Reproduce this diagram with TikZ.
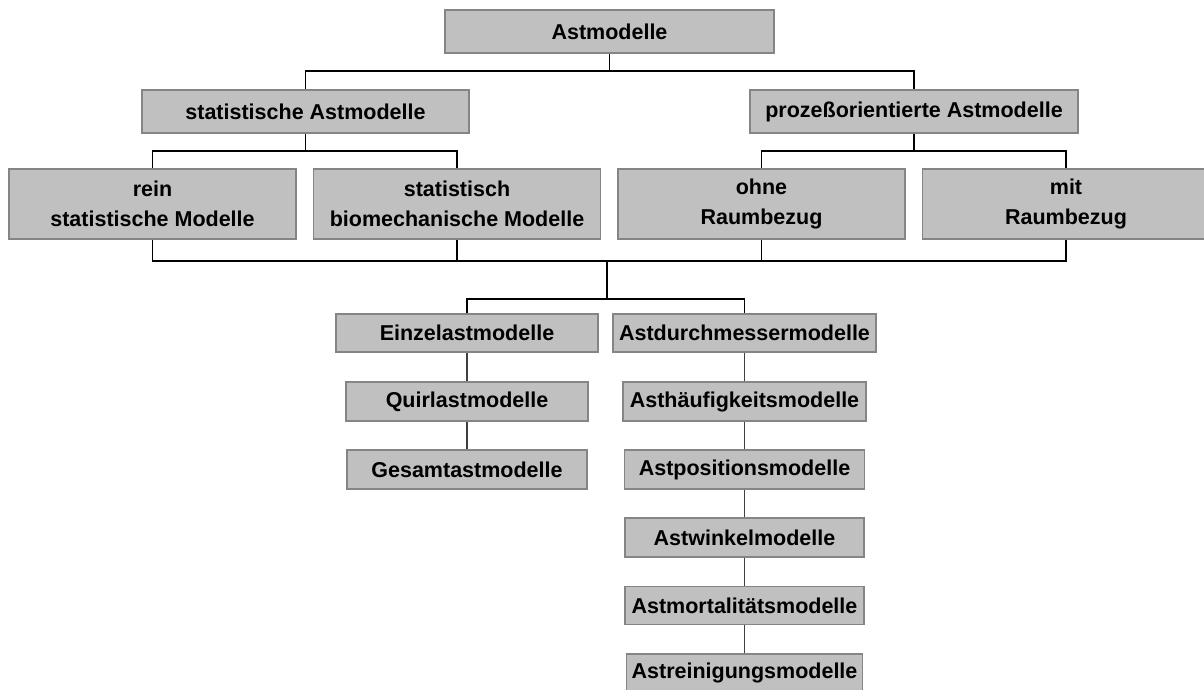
\documentclass[tikz,border=0pt]{standalone}
\usepackage{fontspec}
\setmainfont{Liberation Sans}
\begin{document}
\begin{tikzpicture}[x=1pt,y=-1pt,
  box/.style={draw=boxborder, fill=boxfill, line width=1.2pt, inner sep=0pt,
    align=center, font=\fontsize{21.5}{30}\selectfont\bfseries, text=black},
  conn/.style={draw=black, line width=1.3pt},
  col/.style={draw=colline, line width=1.1pt}]
\definecolor{boxfill}{HTML}{C0C0C0}
\definecolor{boxborder}{HTML}{858585}
\definecolor{colline}{HTML}{404040}
\useasboundingbox (0,0) rectangle (1204,689);
\fill[white] (0,0) rectangle (1204,689);
% nodes
\node[box, minimum width=329pt, minimum height=43pt] (A) at (609.5,31.5) {Astmodelle};
\node[box, minimum width=327pt, minimum height=43pt] (S) at (305.5,111.5) {statistische Astmodelle};
\node[box, minimum width=328pt, minimum height=43pt] (P) at (914,111.5) {prozeßorientierte Astmodelle};
\node[box, minimum width=287pt, minimum height=70pt] (R1) at (152.5,204) {rein\\statistische Modelle};
\node[box, minimum width=287pt, minimum height=70pt] (R2) at (457,204) {statistisch\\biomechanische Modelle};
\node[box, minimum width=287pt, minimum height=70pt] (R3) at (761.5,204) {ohne\\Raumbezug};
\node[box, minimum width=287pt, minimum height=70pt] (R4) at (1066,204) {mit\\Raumbezug};
\node[box, minimum width=262pt, minimum height=38pt] (E) at (467,333) {Einzelastmodelle};
\node[box, minimum width=242pt, minimum height=39pt] (Q) at (467,401.5) {Quirlastmodelle};
\node[box, minimum width=240pt, minimum height=39pt] (G) at (467,469.5) {Gesamtastmodelle};
\node[box, minimum width=263pt, minimum height=38pt] (D1) at (744.5,333) {Astdurchmessermodelle};
\node[box, minimum width=243pt, minimum height=39pt] (D2) at (744.5,401.5) {Asthäufigkeitsmodelle};
\node[box, minimum width=240pt, minimum height=39pt] (D3) at (744.5,469.5) {Astpositionsmodelle};
\node[box, minimum width=239pt, minimum height=39pt] (D4) at (744.5,537.5) {Astwinkelmodelle};
\node[box, minimum width=239pt, minimum height=38pt] (D5) at (744.5,605.5) {Astmortalitätsmodelle};
\node[box, minimum width=236pt, minimum height=38pt] (D6) at (744.5,673) {Astreinigungsmodelle};
% junction levels
\coordinate (j1) at (0,71);
\coordinate (j2) at (0,151);
\coordinate (j3) at (0,261);
\coordinate (j4) at (0,299);
\coordinate (c3) at (607,261);
\coordinate (c4) at (607,299);
% connectors
\draw[conn] (A.south) -- (A.south |- j1);
\draw[conn] (S.north) -- (S.north |- j1) -- (P.north |- j1) -- (P.north);
\draw[conn] (S.south) -- (S.south |- j2);
\draw[conn] (R1.north) -- (R1.north |- j2) -- (R2.north |- j2) -- (R2.north);
\draw[conn] (P.south) -- (P.south |- j2);
\draw[conn] (R3.north) -- (R3.north |- j2) -- (R4.north |- j2) -- (R4.north);
\draw[conn] (R1.south) -- (R1.south |- j3) -- (R4.south |- j3) -- (R4.south);
\draw[conn] (R2.south) -- (R2.south |- j3);
\draw[conn] (R3.south) -- (R3.south |- j3);
\draw[conn] (c3) -- (c4);
\draw[conn] (E.north) -- (E.north |- j4) -- (D1.north |- j4) -- (D1.north);
\draw[col] (E) -- (Q);
\draw[col] (Q) -- (G);
\draw[col] (D1) -- (D2);
\draw[col] (D2) -- (D3);
\draw[col] (D3) -- (D4);
\draw[col] (D4) -- (D5);
\draw[col] (D5) -- (D6);
\end{tikzpicture}
\end{document}
